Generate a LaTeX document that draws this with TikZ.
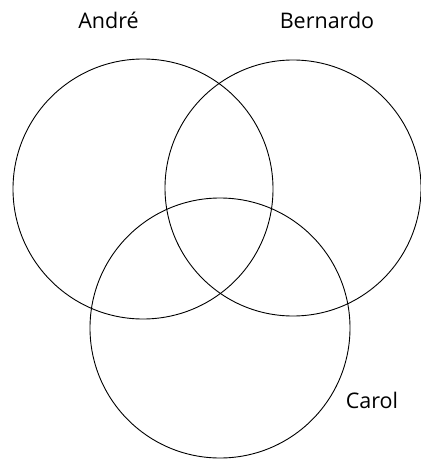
\documentclass[tikz,border=0pt]{standalone}
\usepackage{fontspec}
\setmainfont{Open Sans}
\begin{document}
\begin{tikzpicture}[x=1pt,y=-1pt,
  setcircle/.style={draw=black,line width=0.9pt},
  setlabel/.style={font=\fontsize{21.5}{24}\selectfont,inner sep=0pt,anchor=center}]
\useasboundingbox (0,0) rectangle (420,460);
\draw[setcircle] (143,189) circle (130);
\draw[setcircle] (293,188) circle (128);
\draw[setcircle] (220,328) circle (130);
\node[setlabel] (a) at (108.5,20) {André};
\node[setlabel] (b) at (327,20) {Bernardo};
\node[setlabel] (c) at (372,400) {Carol};
\end{tikzpicture}
\end{document}
